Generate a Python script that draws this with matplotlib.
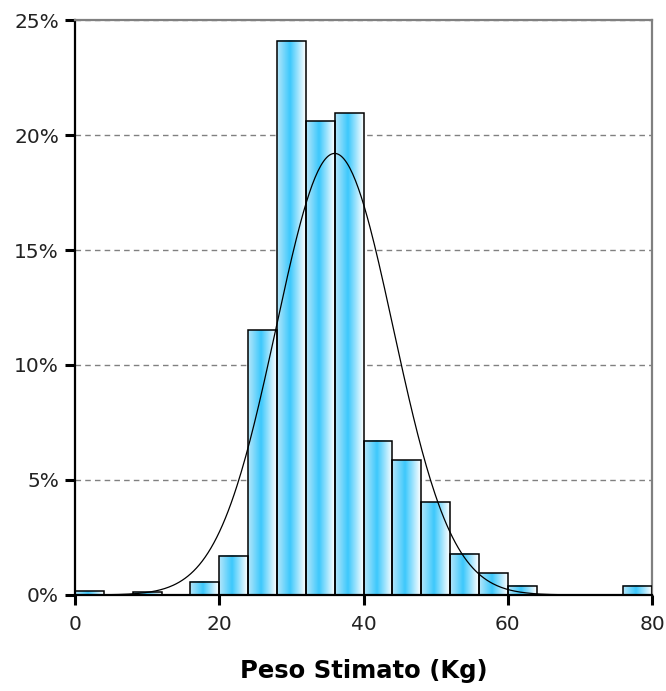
import numpy as np
import matplotlib
matplotlib.use('Agg')
import matplotlib.pyplot as plt
from matplotlib.colors import LinearSegmentedColormap
from matplotlib.ticker import FuncFormatter

# istogramma: classi da 4 kg, percentuali
bin_edges = list(range(0, 84, 4))
bin_pct = [0.17, 0.0, 0.13, 0.0, 0.57, 1.7, 11.5, 24.1, 20.6, 20.95,
           6.7, 5.87, 4.04, 1.8, 0.95, 0.4, 0.0, 0.0, 0.0, 0.4]

# curva normale sovrapposta (picco in %, media e dev. std in kg)
fit_peak = 19.2
fit_mean = 36.0
fit_sd = 8.1

x_ticks = [0, 20, 40, 60, 80]
y_ticks = [0, 5, 10, 15, 20, 25]
x_label = 'Peso Stimato (Kg)'

plt.rcParams['font.family'] = ['DejaVu Sans']

fig = plt.figure(figsize=(6.66, 6.91), dpi=100)
ax = fig.add_axes([0.1126, 0.139, 0.8664, 0.832])

# sfumatura orizzontale delle barre
cmap = LinearSegmentedColormap.from_list(
    'bar', [(0.0, '#b4e6fa'), (0.45, '#3cc8fc'), (1.0, '#ffffff')])
grad = np.linspace(0, 1, 64).reshape(1, -1)

for left, right, h in zip(bin_edges[:-1], bin_edges[1:], bin_pct):
    if h <= 0:
        continue
    ax.imshow(grad, cmap=cmap, aspect='auto', extent=(left, right, 0, h),
              interpolation='bicubic', zorder=2)
    ax.bar(left, h, width=right - left, align='edge', fill=False,
           edgecolor='black', linewidth=1.1, zorder=3)

xs = np.linspace(0, 80, 400)
ys = fit_peak * np.exp(-0.5 * ((xs - fit_mean) / fit_sd) ** 2)
ax.plot(xs, ys, color='black', linewidth=0.9, zorder=4)

ax.set_xlim(0, 80)
ax.set_ylim(0, 25)
ax.set_xticks(x_ticks)
ax.set_yticks(y_ticks)
ax.yaxis.set_major_formatter(FuncFormatter(lambda v, p: f'{v:.0f}%'))
ax.yaxis.grid(True, linestyle=(0, (4, 3)), color='#808080', linewidth=1.0, zorder=1)
ax.set_axisbelow(True)

for side in ['top', 'right']:
    ax.spines[side].set_color('#808080')
    ax.spines[side].set_linewidth(1.6)
for side in ['left', 'bottom']:
    ax.spines[side].set_color('black')
    ax.spines[side].set_linewidth(1.6)

ax.tick_params(axis='both', direction='out', length=7.5, width=2.2,
               labelsize=14.5, color='black', labelcolor='#222222', pad=4)
ax.tick_params(axis='x', pad=7)
ax.set_xlabel(x_label, fontsize=17.5, fontweight='bold', labelpad=18)

fig.savefig('out.png', dpi=100)
